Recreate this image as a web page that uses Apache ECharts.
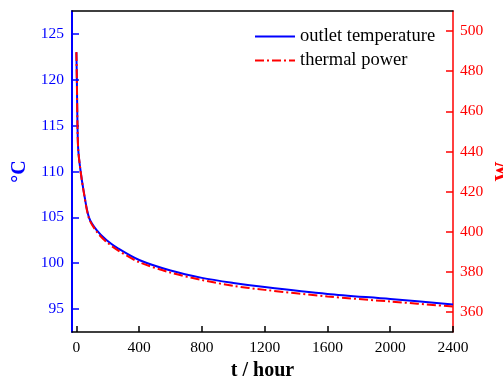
<!DOCTYPE html>
<html>
<head>
<meta charset="utf-8">
<script src="https://cdn.jsdelivr.net/npm/echarts@6/dist/echarts.min.js"></script>
<style>html,body{margin:0;padding:0;background:#fff}#c{width:503px;height:381px}</style>
</head>
<body>
<div id="c"></div>
<script>
const hours = [0, 3, 7, 12, 27, 45, 80, 129, 193, 267, 400, 600, 800, 1000, 1200, 1600, 2000, 2400];
const outletTemp = [123.0, 120.0, 115.0, 112.3, 110.0, 108.0, 105.0, 103.6, 102.5, 101.6, 100.35, 99.2, 98.4, 97.85, 97.4, 96.65, 96.1, 95.5];
const thermalPower = [489.5, 475.6, 452.8, 440.5, 430.0, 420.6, 406.7, 400.0, 394.8, 390.6, 384.8, 379.6, 375.9, 373.0, 371.0, 367.7, 365.2, 362.7];
const xTicks = [0, 400, 800, 1200, 1600, 2000, 2400];
const leftTicks = [95, 100, 105, 110, 115, 120, 125];
const rightTicks = [360, 380, 400, 420, 440, 460, 480, 500];

const FONT = '"Liberation Serif", "Times New Roman", serif';
const plain = v => String(v);
const chart = echarts.init(document.getElementById('c'), null, {renderer: 'canvas'});
chart.setOption({
  animation: false,
  backgroundColor: '#fff',
  grid: {left: 72, right: 50, top: 11, bottom: 49, containLabel: false, outerBoundsMode: 'none'},
  legend: {
    orient: 'vertical', left: 249, top: 22,
    itemWidth: 40, itemHeight: 14, itemGap: 5,
    itemStyle: {opacity: 0},
    textStyle: {fontFamily: FONT, fontSize: 18.5, color: '#000'},
    data: ['outlet temperature', 'thermal power']
  },
  xAxis: [{
    type: 'value', min: -28, max: 2400,
    name: 't / hour', nameLocation: 'middle', nameGap: 29,
    nameTextStyle: {fontFamily: FONT, fontSize: 20, fontWeight: 'bold', color: '#000'},
    axisLine: {onZero: false, lineStyle: {color: '#000', width: 1.5}},
    axisTick: {inside: true, length: 6, lineStyle: {color: '#000', width: 1.5}, customValues: xTicks},
    axisLabel: {fontFamily: FONT, fontSize: 15.5, color: '#000', margin: 8, customValues: xTicks, formatter: plain},
    splitLine: {show: false}
  }, {
    type: 'value', min: -28, max: 2400, position: 'top',
    axisLine: {show: true, onZero: false, lineStyle: {color: '#000', width: 1.5}},
    axisTick: {show: false}, axisLabel: {show: false}, splitLine: {show: false}
  }],
  yAxis: [{
    type: 'value', min: 92.5, max: 127.5, position: 'left',
    name: '°C', nameLocation: 'middle', nameGap: 38,
    nameTextStyle: {fontFamily: FONT, fontSize: 20, fontWeight: 'bold', color: '#0000ff'},
    axisLine: {show: true, onZero: false, lineStyle: {color: '#0000ff', width: 2}},
    axisTick: {inside: true, length: 7, lineStyle: {color: '#0000ff', width: 1.5}, customValues: leftTicks},
    axisLabel: {fontFamily: FONT, fontSize: 15.5, color: '#0000ff', margin: 8, customValues: leftTicks, formatter: plain},
    splitLine: {show: false}
  }, {
    type: 'value', min: 350, max: 510, position: 'right',
    name: 'W', nameLocation: 'middle', nameGap: 40,
    nameTextStyle: {fontFamily: FONT, fontSize: 20, fontWeight: 'bold', color: '#ff0000'},
    axisLine: {show: true, onZero: false, lineStyle: {color: '#ff0000', width: 1.5}},
    axisTick: {inside: true, length: 7, lineStyle: {color: '#ff0000', width: 1.5}, customValues: rightTicks},
    axisLabel: {fontFamily: FONT, fontSize: 15.5, color: '#ff0000', margin: 7, customValues: rightTicks, formatter: plain},
    splitLine: {show: false}
  }],
  series: [{
    name: 'outlet temperature', type: 'line', xAxisIndex: 0, yAxisIndex: 0,
    data: hours.map((h, i) => [h, outletTemp[i]]),
    symbol: 'none', smooth: 0.3,
    lineStyle: {color: '#0000ff', width: 2},
    itemStyle: {color: '#0000ff'}
  }, {
    name: 'thermal power', type: 'line', xAxisIndex: 0, yAxisIndex: 1,
    data: hours.map((h, i) => [h, thermalPower[i]]),
    symbol: 'none', smooth: 0.3,
    lineStyle: {color: '#ff0000', width: 2, type: [9, 3, 2, 3]},
    itemStyle: {color: '#ff0000'}
  }]
});
</script>
</body>
</html>
